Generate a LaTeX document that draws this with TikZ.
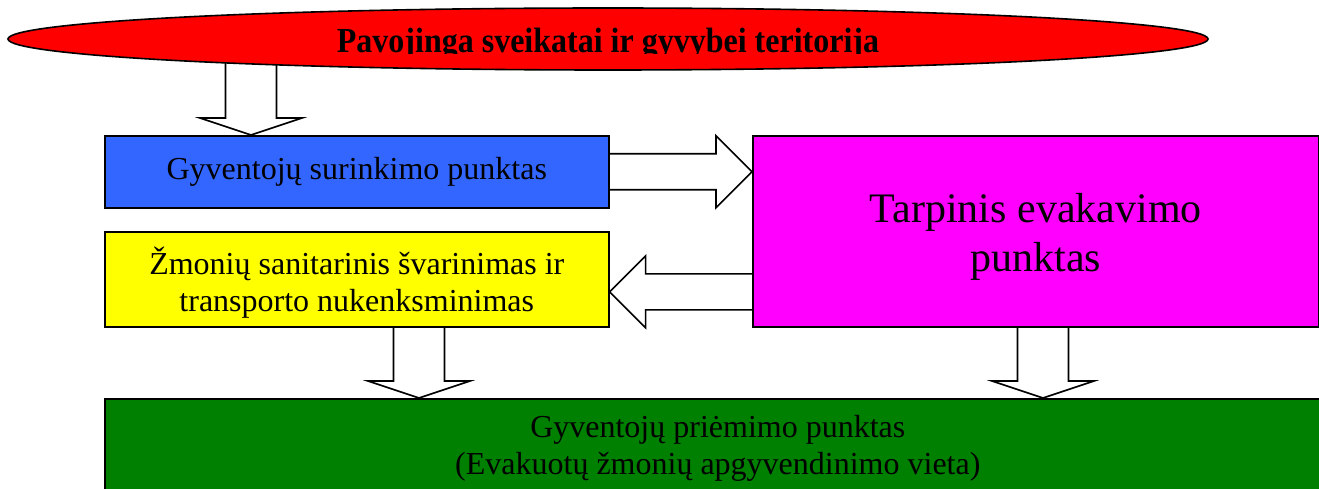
\documentclass[tikz,border=0pt]{standalone}
\usepackage{fontspec}
\setmainfont{Liberation Serif}
\usetikzlibrary{shapes.geometric,calc}
\pgfdeclarelayer{bg}
\pgfsetlayers{bg,main}
\definecolor{boxblue}{HTML}{3366FF}
\definecolor{boxyellow}{HTML}{FFFF00}
\definecolor{boxmagenta}{HTML}{FF00FF}
\definecolor{boxgreen}{HTML}{008000}
\definecolor{ellred}{HTML}{FF0000}
% vertical block arrow: #1 start (y used), #2 tip
\newcommand\vblock[2]{%
  \draw[blockarrow] let \p1=(#1), \p2=(#2) in
    (\x2-25.5pt,\y1) -- (\x2-25.5pt,\y2+17pt) -- (\x2-51pt,\y2+17pt) -- (\x2,\y2)
    -- (\x2+51pt,\y2+17pt) -- (\x2+25.5pt,\y2+17pt) -- (\x2+25.5pt,\y1);}
% horizontal block arrow: #1 start (x used), #2 tip
\newcommand\hblock[2]{%
  \draw[blockarrow] let \p1=(#1), \p2=(#2), \n1={sign(\x2-\x1)} in
    (\x1,\y2+18pt) -- (\x2-\n1*36pt,\y2+18pt) -- (\x2-\n1*36pt,\y2+36pt) -- (\x2,\y2)
    -- (\x2-\n1*36pt,\y2-36pt) -- (\x2-\n1*36pt,\y2-18pt) -- (\x1,\y2-18pt);}
\newcommand\lowerby[2]{\raisebox{-#1}[\height][\depth]{#2}}
\begin{document}
\begin{tikzpicture}[x=1pt,y=-1pt,
  box/.style={draw, line width=1.6pt, rectangle, inner sep=0pt, anchor=north west,
    align=center, font=\fontsize{32}{37}\selectfont},
  blockarrow/.style={draw, fill=white, line width=1.6pt, line join=miter}]
\useasboundingbox (0,0) rectangle (1319,489);
\clip (0,0) rectangle (1319,489);
% ellipse
\node[ellipse, draw, line width=1.6pt, fill=ellred, minimum width=1200pt, minimum height=62pt, inner sep=0pt] (e) at (608,39) {};
\begin{scope}
  \clip (0,0) rectangle (1319,53.8);
  \node[font=\bfseries\fontsize{32}{32}\selectfont, anchor=base, inner sep=0pt, yscale=1.1] (et) at (608,53) {Pavojinga sveikatai ir gyvybei teritorija};
\end{scope}
% boxes
\node[box, fill=boxblue, minimum width=504pt, minimum height=72pt] (b) at (104,135) {Gyventojų surinkimo punktas};
\node[box, fill=boxyellow, minimum width=504pt, minimum height=95pt] (y) at (104,231) {\lowerby{3pt}{Žmonių sanitarinis švarinimas ir}\\\lowerby{3pt}{transporto nukenksminimas}};
\node[box, fill=boxmagenta, minimum width=566pt, minimum height=191pt, font=\fontsize{42}{49}\selectfont] (m) at (752,135) {\lowerby{6pt}{Tarpinis evakavimo}\\\lowerby{6pt}{punktas}};
\node[box, fill=boxgreen, minimum width=1226pt, minimum height=100pt] (g) at (104,398) {Gyventojų priėmimo punktas\\(Evakuotų žmonių apgyvendinimo vieta)};
% arrows
\begin{pgfonlayer}{bg}
  \vblock{e.center}{$(b.north west)+(147,0)$}
  \hblock{b.east}{m.west |- b.east}
  \hblock{m.west}{$(y.east)+(0,12.5)$}
  \vblock{y.south}{$(g.north west)+(315,0)$}
  \vblock{m.south}{$(g.north west)+(939,0)$}
\end{pgfonlayer}
\end{tikzpicture}
\end{document}
